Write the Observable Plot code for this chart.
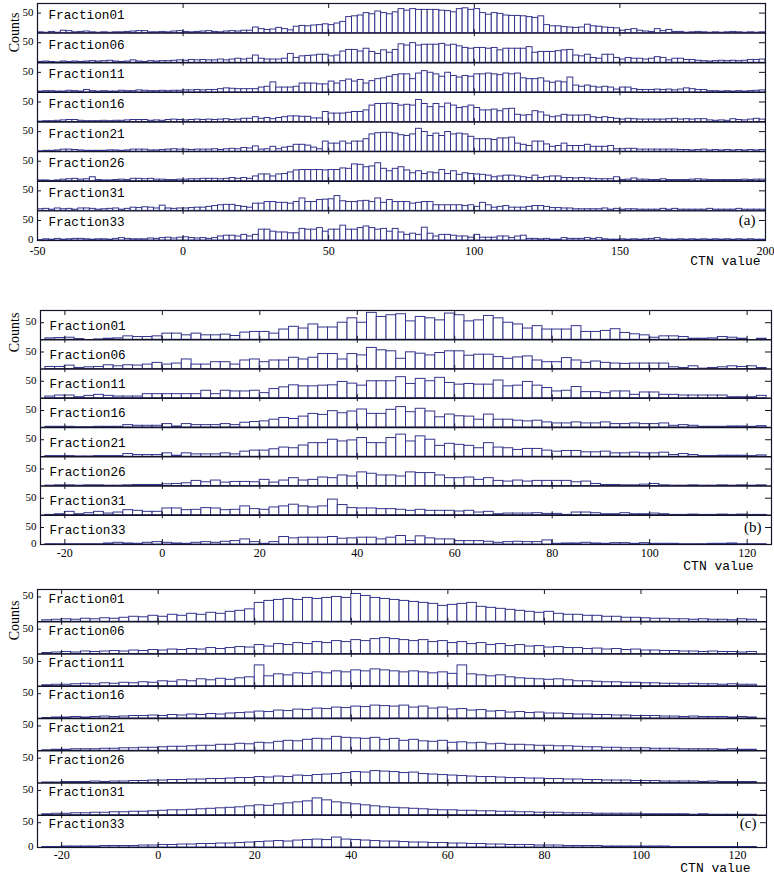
<!DOCTYPE html>
<html><head><meta charset="utf-8">
<script src="https://cdn.jsdelivr.net/npm/d3@7"></script>
<script src="https://cdn.jsdelivr.net/npm/@observablehq/plot@0.6"></script>
<style>
body{margin:0;background:#fff;}
#chart{position:relative;width:774px;height:878px;background:#fff;overflow:hidden;}
#chart svg{position:absolute;left:0;overflow:visible;}
</style></head><body><div id="chart"></div>
<script>
// ---------- categories ----------
const fractions = ["Fraction01","Fraction06","Fraction11","Fraction16","Fraction21","Fraction26","Fraction31","Fraction33"];
const panelTags = ["(a)","(b)","(c)"];
const yTickText = {zero: "0", fifty: "50"};
const xTickValuesA = [-50, 0, 50, 100, 150, 200];
const xTickValuesBC = [-20, 0, 20, 40, 60, 80, 100, 120];
const binWidth = 2;
const binStartA = -50;
const binStartBC = -24;

// ---------- panel (a): counts per 2-unit bin, from -50 to 200 ----------
const a01 = [2,1,3,1,6,5,2,3,4,2, 1,2,1,2,2,3,4,5,5,2, 2,3,2,4,5,3,2,3,4,5, 3,2,4,5,4,6,6,14,10,8,
  9,13,10,7,16,18,17,19,20,22, 20,24,28,40,42,44,50,47,54,50, 47,52,60,56,60,58,58,58,58,56, 55,52,60,62,58,60,50,46,50,48,
  44,43,43,42,40,38,42,20,17,17, 15,14,13,14,21,17,16,14,13,12, 6,8,10,6,4,3,10,5,8,3, 3,1,2,3,2,1,2,1,2,3, 2,1,2,1,2];
const a06 = [2,3,2,1,3,2,3,2,3,4, 3,4,5,3,2,3,6,3,2,4, 3,4,4,5,6,5,7,6,7,6, 6,8,6,8,10,8,10,18,10,8,
  8,8,10,22,12,16,17,18,20,20, 16,18,28,32,32,28,35,27,22,31, 25,32,46,43,49,43,45,45,45,47, 43,45,41,37,35,37,37,35,37,31,
  35,35,35,35,39,25,27,27,27,29, 31,32,18,16,20,12,10,20,20,12, 8,12,10,10,8,10,14,12,6,10, 10,7,7,5,4,3,4,5,4,5, 4,5,7,7,8];
const a11 = [2,3,3,2,2,4,3,2,6,3, 2,3,2,2,4,3,3,5,4,3, 3,4,3,4,4,5,5,6,5,6, 6,8,10,9,8,8,8,8,12,14,
  25,12,12,12,14,22,22,22,20,20, 27,22,28,32,27,31,22,28,33,35, 39,43,45,45,33,47,53,49,45,39, 49,41,37,41,39,45,45,47,45,43,
  47,45,47,35,33,33,35,27,24,27, 25,37,17,14,17,14,12,14,12,7, 12,12,8,6,6,6,7,6,7,5, 7,10,8,6,6,3,3,2,3,2, 3,2,3,4,5];
const a16 = [1,2,2,3,4,5,5,3,2,2, 2,3,2,3,3,4,5,5,5,3, 4,3,5,6,5,4,5,6,5,6, 5,6,7,5,6,8,8,12,8,10,
  7,10,12,14,14,13,13,9,9,25, 21,21,21,23,25,25,29,41,45,45, 46,45,41,43,41,55,45,37,45,37, 46,41,35,37,41,35,29,29,31,27,
  32,33,18,16,17,27,24,16,12,14, 18,16,16,16,17,12,10,12,10,8, 6,8,7,6,6,6,6,6,7,8, 6,7,6,7,7,4,3,4,3,7, 5,4,6,8,6];
const a21 = [1,2,2,3,5,5,4,3,2,2, 2,2,3,3,2,3,5,5,5,3, 3,4,5,6,5,5,4,5,5,5, 6,4,6,7,6,9,8,13,5,6,
  12,6,10,12,17,17,15,10,6,25, 20,20,25,20,25,25,31,43,46,47, 47,45,41,39,43,57,49,39,45,39, 49,43,45,43,37,31,31,31,29,33,
  33,35,20,17,14,25,25,18,12,14, 20,14,14,14,17,12,12,12,14,6, 6,7,7,5,5,5,5,5,5,5, 4,4,3,4,5,3,4,3,4,3, 4,3,4,3,4];
const a26 = [2,2,1,2,4,5,6,4,5,10, 3,2,2,3,4,3,6,6,5,6, 4,4,3,3,4,4,5,5,6,6, 6,5,6,8,6,8,6,12,17,17,
  12,17,18,22,27,28,28,28,28,27, 28,28,32,31,42,41,35,37,45,31, 25,31,35,27,20,25,18,22,20,28, 18,25,16,20,18,17,16,14,10,12,
  14,14,12,10,8,14,8,10,12,12, 8,8,7,8,7,6,5,5,5,10, 3,4,7,4,4,3,3,5,3,3, 3,3,4,5,4,3,3,3,3,3, 3,4,3,4,4];
const a31 = [4,5,3,6,4,5,3,6,6,5, 3,4,5,6,3,5,8,7,9,8, 6,13,6,5,6,6,7,8,8,10, 12,14,15,15,12,10,8,18,18,22,
  22,20,20,18,22,31,22,22,27,28, 29,37,24,22,22,24,25,22,31,20, 27,22,22,22,18,20,22,22,14,14, 14,14,14,12,14,10,20,14,8,10,
  12,8,8,8,10,12,12,10,7,7, 6,6,4,4,4,4,4,6,3,5, 3,4,4,3,3,3,3,5,3,5, 3,3,3,3,3,5,3,3,3,3, 5,3,3,3,3];
const a33 = [1,3,2,4,2,3,4,4,3,2, 3,3,2,4,6,4,3,3,3,5, 4,6,7,5,7,8,6,5,6,4, 6,10,12,12,10,14,10,14,27,27,
  22,20,20,18,18,29,27,27,31,22, 27,27,37,27,27,31,35,31,27,29, 22,29,20,14,17,14,32,17,10,14, 14,12,10,10,7,14,7,7,7,10,
  10,6,10,12,4,4,3,4,2,2, 6,4,4,4,6,4,6,3,2,2, 3,2,3,2,3,4,6,3,2,2, 3,2,3,2,3,2,3,2,3,2, 3,2,3,2,2];

// ---------- panel (b): counts per 2-unit bin, from -24 to 124 ----------
const b01 = [4,5,6,2,0,1,3,4,10,8, 8,10,18,18,13,18,13,13,15,11, 21,23,23,18,30,38,33,45,36,36,
  50,63,50,79,67,72,75,54,67,63, 57,77,72,54,57,70,63,50,45,33, 40,30,30,30,40,23,23,26,31,20, 16,13,6,10,10,8,3,3,4,8, 6,3,0,3];
const b06 = [6,6,10,3,5,6,11,8,11,10, 13,18,13,16,28,13,13,20,20,13, 25,28,20,25,25,33,28,33,44,44,
  28,44,40,62,55,52,30,49,45,40, 47,52,52,39,42,42,35,30,34,37, 25,20,20,32,25,18,22,18,16,15, 16,16,16,16,5,3,8,1,3,5, 8,6,8,3];
const b11 = [5,8,8,3,7,10,7,5,5,5, 12,12,12,12,12,12,22,12,22,20, 20,22,15,27,32,38,35,35,37,38,
  48,43,37,50,50,50,62,42,57,50, 60,45,40,42,40,40,52,35,37,48, 37,30,20,22,33,18,18,15,20,20, 10,17,17,10,10,8,8,8,8,8, 3,3,3,7];
const b16 = [2,2,2,1,1,2,2,2,7,5, 5,5,10,3,10,7,7,7,10,7, 14,16,18,23,28,25,32,40,37,48,
  42,47,53,40,40,52,60,45,55,47, 30,38,33,32,23,38,23,23,20,18, 20,15,12,12,15,12,12,15,10,10, 12,10,10,12,5,7,5,2,2,2, 3,3,2,4];
const b21 = [2,2,2,1,1,2,2,2,8,5, 5,5,10,3,10,7,7,7,10,7, 15,18,18,22,27,25,33,40,40,50,
  45,48,55,40,40,55,65,45,60,50, 32,38,35,32,25,40,27,25,20,23, 23,18,15,17,17,13,13,15,10,10, 12,10,10,12,5,8,5,2,2,3, 3,3,2,4];
const b26 = [1,2,2,1,2,2,1,1,2,3, 3,3,5,6,8,15,11,16,10,12, 12,11,18,10,16,23,16,18,25,23,
  31,28,40,36,31,31,28,40,38,38, 31,23,23,25,18,23,15,13,16,13, 15,15,15,15,11,13,6,3,3,2, 2,4,6,2,1,1,2,1,1,2, 1,2,1,2];
const b31 = [1,3,10,3,6,10,5,8,15,13, 10,10,20,20,15,16,21,20,15,16, 26,18,16,23,26,31,26,23,26,46,
  30,21,20,20,18,18,16,13,16,13, 13,13,11,13,8,10,3,5,5,5, 6,4,4,1,8,8,6,3,3,6, 3,3,5,3,1,1,2,1,1,2, 1,2,1,1];
const b33 = [1,1,1,1,1,1,3,5,3,2, 5,7,5,3,2,5,7,5,8,10, 15,7,2,7,22,18,20,20,20,22,
  17,18,20,20,15,20,25,10,24,18, 15,15,10,10,10,8,5,7,8,7, 7,12,2,3,3,5,3,2,4,4, 2,4,2,2,2,1,1,1,2,2, 3,1,1,1];

// ---------- panel (c): counts per 2-unit bin, from -24 to 124 ----------
const c01 = [3,4,5,4,6,5,7,6,8,10, 9,12,10,14,12,16,14,18,16,20, 22,25,38,42,44,46,44,48,46,48,
  50,48,56,52,48,46,44,42,40,38, 36,32,34,36,38,30,28,26,24,22, 20,18,20,16,14,14,12,12,10,10, 8,8,7,6,6,5,5,4,5,4, 4,3,5,4];
const c06 = [2,3,4,3,5,4,5,6,5,7, 6,8,7,9,8,10,9,12,10,12, 14,13,18,15,20,18,22,20,24,22,
  26,24,28,26,30,32,30,28,26,28, 24,26,22,24,20,22,18,20,16,18, 15,16,13,14,12,12,10,11,9,10, 8,9,7,7,6,6,5,5,4,5, 4,4,3,4];
const c11 = [2,3,3,4,5,4,6,5,7,6, 8,7,10,9,12,10,14,12,15,13, 16,18,42,20,24,22,26,25,28,26,
  30,28,32,30,34,32,30,28,30,28, 26,28,25,42,24,22,20,22,18,16, 15,14,13,14,12,10,10,9,8,8, 7,7,6,6,5,5,4,5,4,4, 3,4,3,3];
const c16 = [1,2,2,3,2,3,4,3,4,5, 5,6,5,7,6,8,7,9,8,10, 11,12,14,13,16,15,18,17,20,19,
  22,21,24,23,26,25,24,26,22,24, 20,22,18,19,16,17,14,15,12,13, 11,12,10,10,9,8,8,7,7,6, 6,5,5,5,4,4,3,4,3,3, 3,2,3,2];
const c21 = [1,2,2,3,3,3,4,4,5,5, 6,6,7,8,8,9,10,10,12,12, 14,13,16,15,18,20,19,22,24,23,
  28,26,25,24,26,22,24,20,22,19, 18,20,16,17,15,16,13,14,12,12, 11,10,10,9,9,8,7,7,6,6, 5,5,5,4,4,4,3,3,3,3, 2,3,2,2];
const c26 = [1,1,2,2,2,3,2,3,3,4, 4,5,5,6,6,7,7,8,8,9, 10,10,12,11,13,12,15,14,16,17,
  18,20,22,21,24,23,22,20,21,18, 17,16,15,14,13,12,12,11,10,10, 9,9,8,8,7,7,6,6,5,5, 5,4,4,4,3,3,3,3,2,3, 2,2,2,2];
const c31 = [2,3,3,4,4,5,5,6,6,7, 7,8,9,10,10,11,12,13,14,15, 16,18,20,19,22,24,26,28,34,30,
  26,24,22,20,18,16,15,14,13,12, 11,10,10,9,9,8,8,7,7,6, 6,5,5,5,4,4,4,3,3,3, 3,3,2,2,2,2,2,1,2,1, 1,1,1,1];
const c33 = [1,1,2,2,2,2,3,3,3,3, 4,4,5,5,6,6,7,7,8,8, 9,10,11,12,13,12,14,15,16,15,
  20,16,15,14,13,12,12,11,10,10, 9,9,8,8,7,7,6,6,5,5, 5,4,4,4,3,3,3,3,2,2, 2,2,2,2,2,1,1,1,1,1, 1,1,1,1];

// ---------- layout / style ----------
const SERIF = "'Liberation Serif','DejaVu Serif',serif";
const MONO = "'Liberation Mono','DejaVu Sans Mono',monospace";
const BAR_STROKE = "#34348c";
const LINE = "#141428";

const panels = [
  {tag: panelTags[0], counts: [a01,a06,a11,a16,a21,a26,a31,a33], binStart: binStartA, domain: [-50, 200], xTicks: xTickValuesA,
   top: 0, height: 278, mt: 3, mb: 38, ml: 37, mr: 9, rowCounts: 74, labelDx: 11, labelDy: 11.5, countsY: 32, ctnDx: -5,
   xPad: 6, ctnDy: 24.5},
  {tag: panelTags[1], counts: [b01,b06,b11,b16,b21,b26,b31,b33], binStart: binStartBC, domain: [-25, 125], xTicks: xTickValuesBC,
   top: 280, height: 299, mt: 30, mb: 35, ml: 40, mr: 3, rowCounts: 86, labelDx: 9, labelDy: 15, countsY: 332, ctnDx: -18,
   xPad: 4, ctnDy: 25},
  {tag: panelTags[2], counts: [c01,c06,c11,c16,c21,c26,c31,c33], binStart: binStartBC, domain: [-25, 126], xTicks: xTickValuesBC,
   top: 580, height: 298, mt: 9, mb: 31, ml: 37, mr: 8, rowCounts: 65, labelDx: 11, labelDy: 9, countsY: 620, ctnDx: -16,
   xPad: 3, ctnDy: 24}
];

function makePanel(p) {
  const R = p.rowCounts;
  const n = p.counts.length;
  const topVal = n * R;
  const frameH = p.height - p.mt - p.mb;
  const cPerPx = topVal / frameH;
  const uPerPx = (p.domain[1] - p.domain[0]) / (774 - p.ml - p.mr);
  const bars = [];
  p.counts.forEach((arr, i) => {
    const base = (n - 1 - i) * R;
    arr.forEach((c, j) => {
      const x1 = p.binStart + j * binWidth;
      bars.push({x1, x2: x1 + binWidth, y1: base, y2: base + c});
    });
  });
  const levels = d3.range(n + 1).map(k => k * R);
  const marks = [];
  p.xTicks.filter(t => t > p.domain[0] && t < p.domain[1]).forEach(t => {
    levels.forEach(L => {
      const edge = L === 0 || L === topVal;
      const tl = (edge ? 5 : 3.5) * cPerPx;
      marks.push({x: t, y1: Math.max(0, L - tl), y2: Math.min(topVal, L + tl)});
    });
  });
  const fiftyLevels = d3.range(n).map(k => k * R + 50);
  const yTicks = fiftyLevels.concat([0]);
  const svg = Plot.plot({
    width: 774, height: p.height,
    marginTop: p.mt, marginBottom: p.mb, marginLeft: p.ml, marginRight: p.mr,
    x: {domain: p.domain, axis: null},
    y: {domain: [0, topVal], axis: null},
    style: {fontFamily: SERIF, fontSize: "12px", background: "white", color: "black"},
    marks: [
      Plot.rect(bars, {x1: "x1", x2: "x2", y1: "y1", y2: "y2", fill: "white", stroke: BAR_STROKE, strokeWidth: 1, clip: true}),
      Plot.ruleY(levels.slice(1, n), {stroke: LINE, strokeWidth: 1.4}),
      Plot.ruleX(marks, {x: "x", y1: "y1", y2: "y2", stroke: LINE, strokeWidth: 1}),
      Plot.ruleY(fiftyLevels, {x1: p.domain[0], x2: p.domain[0] + 4 * uPerPx, stroke: LINE, strokeWidth: 1}),
      Plot.ruleY(fiftyLevels, {x1: p.domain[1] - 6 * uPerPx, x2: p.domain[1], stroke: LINE, strokeWidth: 1}),
      Plot.frame({stroke: LINE, strokeWidth: 1.2}),
      Plot.axisX({ticks: p.xTicks, tickFormat: d => String(d), tickSize: 0, tickPadding: p.xPad, fontSize: 12, fontFamily: SERIF}),
      Plot.axisY({ticks: yTicks, tickFormat: d => d === 0 ? yTickText.zero : yTickText.fifty, tickSize: 0, tickPadding: 4, dy: -1,
        fontSize: 11, fontFamily: SERIF}),
      Plot.text(fractions, {frameAnchor: "left", y: (d, i) => topVal - i * R, text: d => d, dx: p.labelDx, dy: p.labelDy,
        textAnchor: "start", fontFamily: MONO, fontSize: 12.7, fill: "black"}),
      Plot.text([p.tag], {frameAnchor: "right", y: () => 50, text: d => d, dx: -10, textAnchor: "end", fontSize: 15, fontFamily: SERIF, fill: "black"}),
      Plot.text(["Counts"], {frameAnchor: "top-left", text: d => d, dx: 9 - p.ml, dy: p.countsY - p.top - p.mt, rotate: -90,
        textAnchor: "middle", fontSize: 14, fontFamily: SERIF, fill: "black"}),
      Plot.text(["CTN value"], {frameAnchor: "bottom-right", text: d => d, dx: p.ctnDx, dy: p.ctnDy, textAnchor: "end",
        fontSize: 13, fontFamily: MONO, fill: "black"})
    ]
  });
  svg.style.top = p.top + "px";
  return svg;
}

const chart = document.getElementById("chart");
panels.forEach(p => chart.appendChild(makePanel(p)));
</script>
</body></html>
